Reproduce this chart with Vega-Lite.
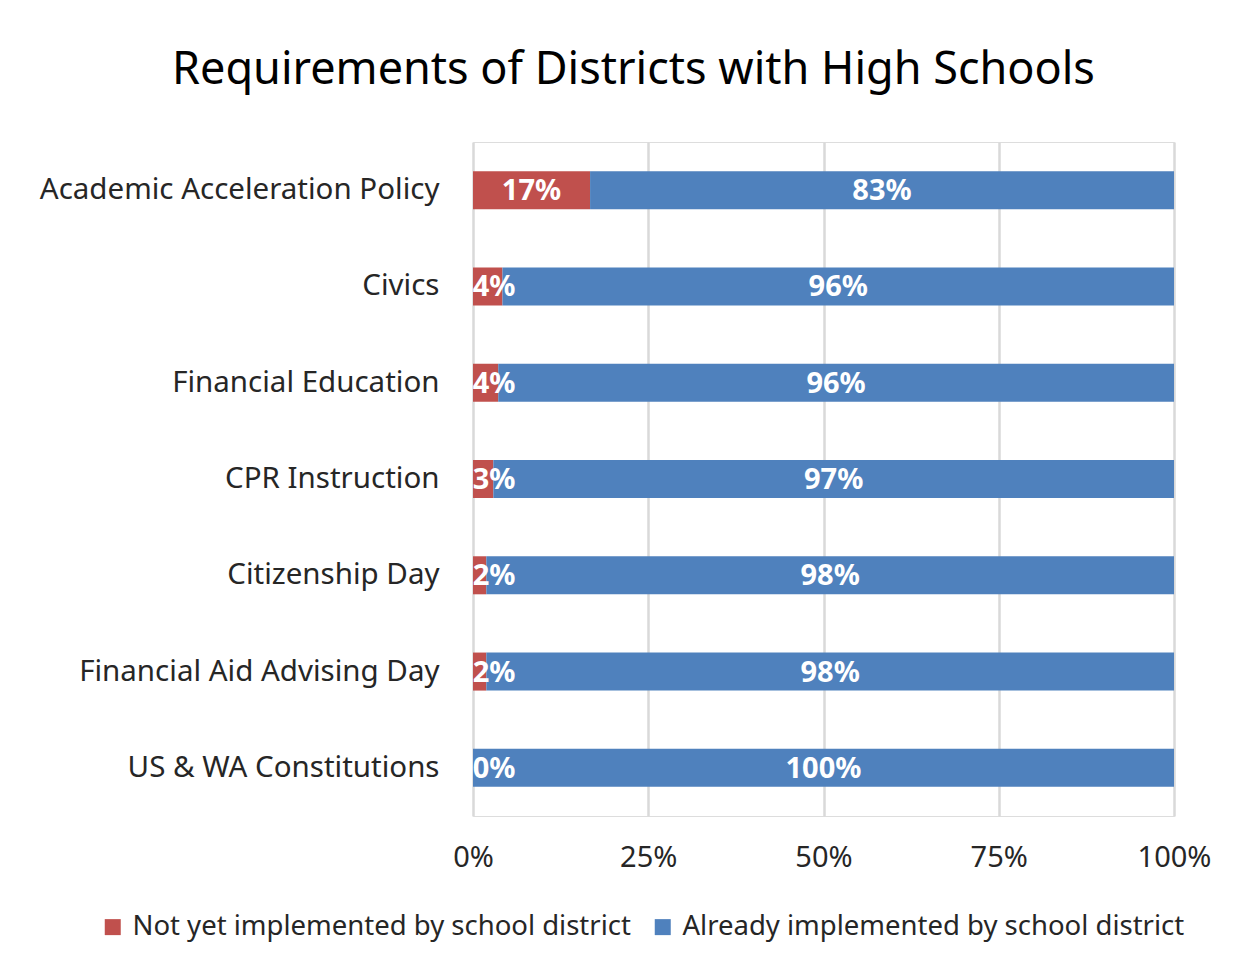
{
  "$schema": "https://vega.github.io/schema/vega-lite/v6.json",
  "width": 701,
  "height": 674,
  "autosize": {"type": "none"},
  "padding": {"left": 473, "top": 142, "right": 71, "bottom": 162},
  "background": "white",
  "title": {
    "text": "Requirements of Districts with High Schools",
    "fontSize": 45,
    "font": "Noto Sans",
    "fontWeight": "normal",
    "color": "#000000",
    "anchor": "middle",
    "dx": -190,
    "offset": 49
  },
  "data": {
    "values": [
      {"req": "Academic Acceleration Policy", "status": "Not yet implemented by school district", "pct": 0.167, "ord": 0},
      {"req": "Academic Acceleration Policy", "status": "Already implemented by school district", "pct": 0.833, "ord": 1},
      {"req": "Civics", "status": "Not yet implemented by school district", "pct": 0.042, "ord": 0},
      {"req": "Civics", "status": "Already implemented by school district", "pct": 0.958, "ord": 1},
      {"req": "Financial Education", "status": "Not yet implemented by school district", "pct": 0.036, "ord": 0},
      {"req": "Financial Education", "status": "Already implemented by school district", "pct": 0.964, "ord": 1},
      {"req": "CPR Instruction", "status": "Not yet implemented by school district", "pct": 0.029, "ord": 0},
      {"req": "CPR Instruction", "status": "Already implemented by school district", "pct": 0.971, "ord": 1},
      {"req": "Citizenship Day", "status": "Not yet implemented by school district", "pct": 0.019, "ord": 0},
      {"req": "Citizenship Day", "status": "Already implemented by school district", "pct": 0.981, "ord": 1},
      {"req": "Financial Aid Advising Day", "status": "Not yet implemented by school district", "pct": 0.019, "ord": 0},
      {"req": "Financial Aid Advising Day", "status": "Already implemented by school district", "pct": 0.981, "ord": 1},
      {"req": "US & WA Constitutions", "status": "Not yet implemented by school district", "pct": 0.0, "ord": 0},
      {"req": "US & WA Constitutions", "status": "Already implemented by school district", "pct": 1.0, "ord": 1}
    ]
  },
  "transform": [
    {"stack": "pct", "groupby": ["req"], "sort": [{"field": "ord"}], "as": ["x0", "x1"]},
    {"calculate": "max((datum.x0 + datum.x1) / 2, 0.03)", "as": "xm"}
  ],
  "encoding": {
    "y": {
      "field": "req",
      "type": "nominal",
      "sort": ["Academic Acceleration Policy", "Civics", "Financial Education", "CPR Instruction", "Citizenship Day", "Financial Aid Advising Day", "US & WA Constitutions"],
      "title": null,
      "scale": {"paddingInner": 0.605, "paddingOuter": 0.3025},
      "axis": {
        "domain": false,
        "ticks": false,
        "labelFontSize": 29.5,
        "labelFont": "Noto Sans",
        "labelColor": "#262626",
        "labelPadding": 34,
        "labelLimit": 600
      }
    }
  },
  "layer": [
    {
      "mark": {"type": "bar"},
      "encoding": {
        "x": {
          "field": "x0",
          "type": "quantitative",
          "scale": {"domain": [0, 1]},
          "title": null,
          "axis": {
            "values": [0, 0.25, 0.5, 0.75, 1],
            "format": ".0%",
            "grid": true,
            "gridColor": "#D9D9D9",
            "gridWidth": 2.5,
            "domain": false,
            "ticks": false,
            "labelFontSize": 29,
            "labelFont": "Noto Sans",
            "labelColor": "#262626",
            "labelPadding": 27,
            "labelFlush": false
          }
        },
        "x2": {"field": "x1"},
        "color": {
          "field": "status",
          "type": "nominal",
          "sort": ["Not yet implemented by school district", "Already implemented by school district"],
          "scale": {
            "domain": ["Not yet implemented by school district", "Already implemented by school district"],
            "range": ["#C0504D", "#4F81BD"]
          },
          "legend": {
            "title": null,
            "orient": "none",
            "legendX": -374,
            "legendY": 771,
            "direction": "horizontal",
            "symbolType": "square",
            "symbolSize": 256,
            "symbolStrokeWidth": 0,
            "labelFontSize": 27.5,
            "labelFont": "Noto Sans",
            "labelColor": "#262626",
            "labelOffset": 6,
            "columnPadding": 18,
            "labelLimit": 600
          }
        }
      }
    },
    {
      "mark": {"type": "text", "color": "white", "fontWeight": "bold", "fontSize": 29, "font": "Noto Sans", "align": "center", "baseline": "middle", "dy": 1},
      "encoding": {
        "x": {"field": "xm", "type": "quantitative"},
        "text": {"field": "pct", "type": "quantitative", "format": ".0%"}
      }
    }
  ]
}
